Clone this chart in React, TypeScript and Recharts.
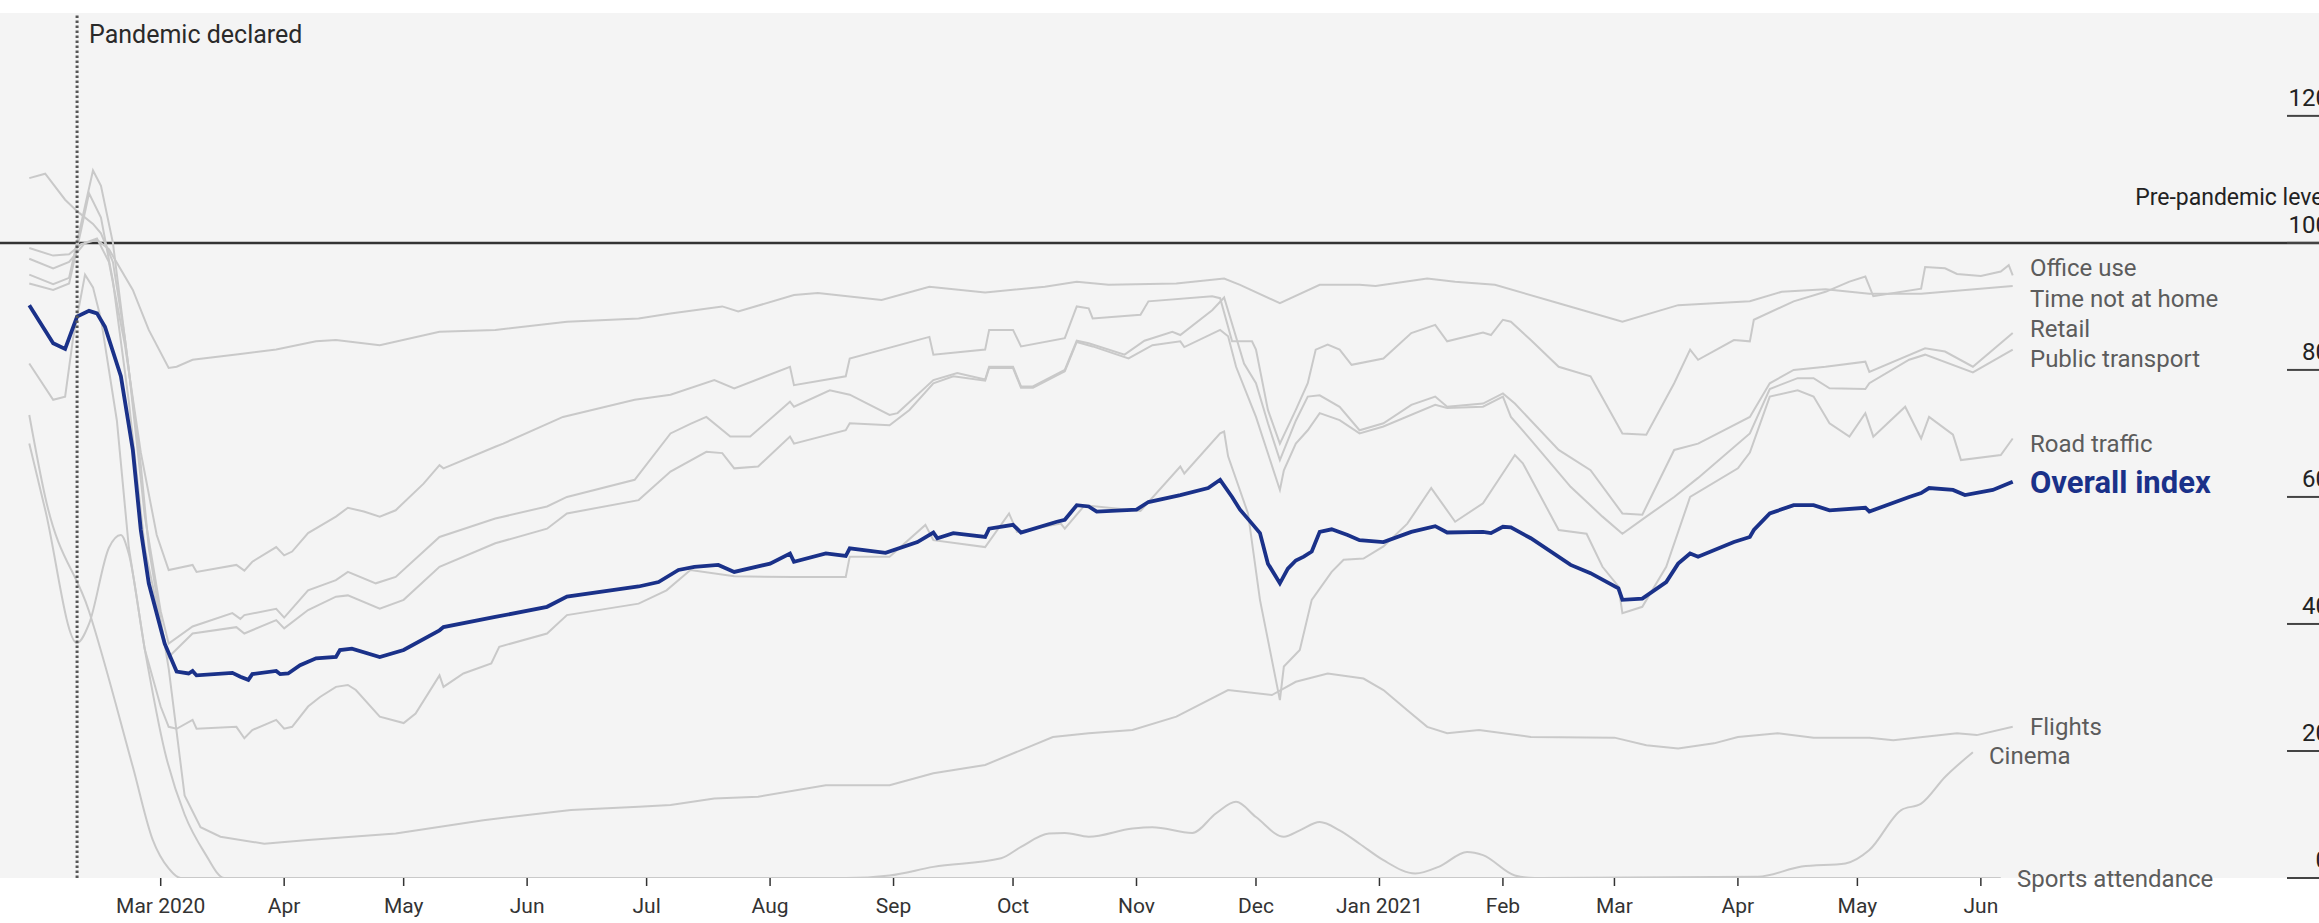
import React from 'react';
import { LineChart, Line, XAxis, YAxis, CartesianGrid, ReferenceLine } from 'recharts';

const CHART_W = 2319;
const CHART_H = 923;

// x values are days since 1 March 2020
const DAY_MIN = -40.35;
const DAY_MAX = 541.9;
const Y_MAX = 136.2;
const PANDEMIC_DECLARED = -21;
const TICK_LEN_DAYS = 8.03;

const monthTicks = [0, 31, 61, 92, 122, 153, 184, 214, 245, 275, 306, 337, 365, 396, 426, 457];
const monthLabels = ['Mar 2020', 'Apr', 'May', 'Jun', 'Jul', 'Aug', 'Sep', 'Oct', 'Nov', 'Dec', 'Jan 2021', 'Feb', 'Mar', 'Apr', 'May', 'Jun'];
const valueTicks = [0, 20, 40, 60, 80, 100, 120];

// [day, index] pairs, 100 = pre-pandemic level
const officeUse = [
  [-33, 97.5], [-27, 96], [-23, 97], [-19, 100], [-16, 100.7], [-13, 97], [-9, 84], [-5, 67], [-1, 54], [2, 48.5],
  [8, 49.3], [9, 48.2], [19, 49.3], [21, 48.4], [23, 49.8], [29, 52.1], [31, 50.8], [33, 51.4], [37, 54.3], [44, 56.9],
  [47, 58.3], [51, 57.7], [55, 56.9], [59, 57.9], [66, 62.1], [70, 65], [71, 64.5], [84, 67.9], [86, 68.4], [101, 72.6],
  [119, 75.3], [128, 76.1], [139, 78.4], [144, 77.1], [158, 80.5], [159, 77.6], [172, 79], [173, 81.8], [193, 85.2], [194, 82.4],
  [207, 83.2], [208, 86.3], [214, 86.3], [216, 83.7], [227, 85], [230, 90], [233, 89.7], [234, 88.1], [246, 88.7], [248, 90.8],
  [264, 91.6], [266, 91.3], [269, 84.5], [274, 84.5], [275, 83.2], [278, 73.7], [281, 68.4], [285, 73.7], [288, 77.9], [290, 83.2],
  [293, 84], [296, 83.2], [299, 80.8], [307, 81.8], [314, 85.8], [320, 87.1], [323, 84.5], [332, 85.9], [334, 85.5], [337, 87.9],
  [339, 87.6], [344, 84.7], [351, 80.5], [359, 79], [367, 70], [373, 69.8], [380, 77.9], [384, 83.2], [386, 81.6], [395, 84.7],
  [399, 84.5], [400, 87.9], [410, 90.8], [418, 92.3], [424, 93.9], [428, 94.7], [430, 91.6], [442, 92.8], [443, 96.2], [448, 96],
  [451, 95.1], [457, 94.8], [462, 95.5], [464, 96.5], [465, 94.9],
];

const timeNotAtHome = [
  [-33, 99.2], [-27, 98], [-23, 98.2], [-20, 99.8], [-16, 100.5], [-13, 99], [-7, 92.6], [-3, 86.3], [2, 80.3], [4, 80.5],
  [8, 81.6], [20, 82.5], [29, 83.2], [39, 84.5], [44, 84.7], [55, 83.9], [70, 86], [84, 86.3], [102, 87.6], [120, 88.1],
  [128, 88.9], [141, 90], [145, 89.2], [159, 91.8], [165, 92.1], [181, 91], [193, 93.1], [207, 92.2], [222, 93.1], [230, 93.9],
  [238, 93.4], [255, 93.6], [267, 94.4], [271, 93.4], [281, 90.5], [291, 93.4], [301, 93.4], [305, 93.2], [318, 94.4], [325, 93.9],
  [335, 93.4], [351, 90.5], [367, 87.6], [381, 90.2], [399, 90.8], [407, 92.3], [418, 92.7], [429, 92], [442, 92], [465, 93.2],
];

const retail = [
  [-33, 95], [-27, 93.5], [-23, 94.5], [-20, 103], [-17, 111.4], [-15, 109], [-12, 100], [-8, 80], [-4, 57], [0, 42],
  [2, 36.9], [8, 39.6], [18, 41.7], [20, 40.8], [21, 41.4], [29, 42.4], [31, 41], [37, 45.3], [44, 46.9], [47, 48.2],
  [54, 46.4], [59, 47.4], [70, 53.7], [84, 56.6], [97, 58.5], [102, 60], [119, 62.7], [128, 70], [133, 71.5], [137, 72.6],
  [143, 69.5], [148, 69.5], [158, 75], [159, 74.2], [168, 76.8], [173, 76.1], [183, 72.9], [185, 73.2], [194, 78.4], [200, 79.5],
  [207, 78.5], [208, 80.5], [214, 80.5], [216, 77.4], [219, 77.4], [227, 80], [230, 84.6], [233, 84.2], [242, 82.4], [247, 84.6],
  [254, 86], [256, 85.5], [264, 89.4], [267, 91.4], [272, 81], [275, 77.9], [278, 71.6], [281, 65.8], [285, 72], [288, 75.8],
  [291, 76], [296, 74.2], [301, 70.5], [307, 71.6], [314, 74.5], [320, 75.8], [323, 74.2], [332, 74.7], [337, 76.3], [340, 74.7],
  [351, 67.4], [359, 64.2], [367, 57.4], [372, 57.2], [380, 67.4], [386, 68.4], [399, 72.6], [404, 77.9], [410, 80], [418, 80.5],
  [428, 81.3], [429, 79.7], [443, 83.4], [448, 82.9], [455, 80.5], [465, 85.8],
];

const publicTransport = [
  [-33, 93.6], [-27, 92.6], [-23, 93.6], [-20, 102], [-18, 107.8], [-15, 104], [-12, 94], [-8, 75], [-4, 52], [0, 40],
  [2, 34.8], [8, 38.5], [19, 39.5], [21, 38.5], [29, 40.6], [31, 39.3], [37, 42.2], [44, 44.3], [47, 44.5], [55, 42.4],
  [61, 43.8], [70, 49], [84, 52.7], [97, 55], [102, 57.4], [120, 59.5], [128, 64], [137, 67.1], [141, 66.9], [144, 64.5],
  [150, 64.8], [158, 69.5], [159, 68.4], [172, 70.5], [173, 71.6], [183, 71.3], [188, 73.7], [194, 77.9], [199, 79], [207, 78.3],
  [208, 80.3], [214, 80.3], [216, 77.2], [219, 77.2], [227, 79.8], [230, 84.4], [234, 83.7], [243, 81.8], [249, 83.9], [256, 84.5],
  [257, 83.6], [266, 86.3], [268, 85.3], [270, 80.5], [275, 72.6], [281, 61.1], [282, 64.2], [285, 68.4], [288, 70.5], [291, 73.2],
  [296, 72.1], [301, 70], [307, 71.1], [320, 74.5], [323, 74], [332, 74.2], [337, 75.8], [339, 72.6], [344, 69], [354, 61.6],
  [362, 56.9], [367, 54.2], [373, 56.9], [380, 60], [386, 63], [399, 70], [404, 77], [411, 78.7], [415, 78.7], [419, 77.1],
  [428, 77], [429, 77.9], [439, 81.6], [443, 82.4], [455, 79.6], [465, 83.2],
];

const roadTraffic = [
  [-33, 81], [-27, 75.3], [-24, 75.8], [-22, 85], [-19, 95], [-17, 93], [-15, 88], [-11, 72], [-8, 52], [-4, 36],
  [0, 27], [2, 23.8], [4, 23.5], [8, 24.9], [9, 23.5], [19, 23.8], [21, 22], [23, 23.3], [29, 24.9], [31, 23.5],
  [33, 23.8], [37, 27], [40, 28.5], [44, 30.1], [47, 30.4], [49, 29.6], [55, 25.4], [61, 24.4], [64, 25.9], [70, 31.9],
  [71, 30.1], [76, 32.2], [83, 33.8], [85, 36.4], [97, 38.5], [102, 41.4], [120, 43.2], [127, 45.3], [133, 48.5], [144, 47.5],
  [159, 47.4], [172, 47.4], [173, 50.6], [183, 50.6], [192, 55.6], [194, 53.2], [207, 52.1], [213, 57.4], [215, 54.5], [226, 55.8],
  [227, 55], [232, 58.7], [246, 57.8], [256, 64.8], [257, 63.7], [266, 70], [267, 70.3], [268, 66.4], [273, 57.4], [276, 43.8],
  [281, 28], [282, 33.3], [286, 35.9], [289, 43.8], [294, 48.2], [297, 50.1], [302, 50.3], [307, 52.2], [313, 55.8], [319, 61.4],
  [325, 56.1], [332, 59], [340, 66.6], [342, 65.3], [351, 54.8], [358, 54.2], [362, 49], [366, 45.9], [367, 41.7], [372, 42.7],
  [378, 49], [384, 60], [396, 64.5], [399, 67], [404, 75.8], [411, 76.8], [415, 75.8], [419, 71.6], [424, 69.5], [428, 73.2],
  [430, 69.5], [438, 74.2], [442, 69.2], [444, 72.6], [450, 69.8], [452, 65.8], [462, 66.6], [465, 69.2],
];

const flights = [
  [-33, 110.2], [-29, 110.9], [-24, 106.8], [-21, 105], [-17, 103], [-15, 101.5], [-12, 97], [-9, 85], [-5, 65], [-3, 52],
  [2, 33], [6, 13], [10, 8], [15, 6.5], [26, 5.4], [37, 6], [59, 7], [81, 9.1], [103, 10.7], [120, 11.2],
  [128, 11.5], [139, 12.5], [150, 12.8], [167, 14.6], [183, 14.6], [194, 16.5], [207, 17.8], [224, 22.2], [233, 22.8], [244, 23.3],
  [255, 25.4], [268, 29.6], [279, 28.8], [285, 30.9], [293, 32.2], [302, 31.4], [307, 29.6], [313, 26.4], [318, 23.8], [323, 22.8],
  [331, 23.3], [344, 22.2], [365, 22.1], [373, 20.9], [381, 20.4], [390, 21.2], [396, 22.2], [406, 22.8], [415, 22.1], [429, 22.1],
  [435, 21.7], [451, 22.8], [456, 22.5], [465, 23.8],
];

const cinema = [
  [-33, 72.9], [-29, 60], [-18, 42], [-7, 17.5], [-2, 6], [2, 1.5], [5, 0], [172, 0], [183, 0.4], [194, 1.75],
  [211, 3.1], [216, 4.9], [223, 7], [227, 7.1], [233, 6.5], [244, 7.8], [249, 8], [259, 7.1], [265, 10.2], [270, 12],
  [275, 9.6], [282, 6.5], [286, 7.5], [291, 8.8], [296, 7.5], [301, 5.4], [307, 2.8], [315, 0.7], [321, 1.8], [328, 4.1],
  [332, 3.6], [340, 0.4], [345, 0], [401, 0.2], [412, 1.8], [423, 2.3], [429, 4.4], [437, 10.7], [442, 11.7], [448, 15.9],
  [455, 19.8],
];

const sportsAttendance = [
  [-33, 68.4], [-29, 58], [-21, 37], [-18, 40], [-13, 52], [-10, 54], [-8, 51], [-4, 36], [1, 20], [6, 10],
  [11, 4], [16, 0], [462, 0],
];

const overallIndex = [
  [-33, 90.2], [-27, 84.2], [-24, 83.3], [-21, 88.4], [-18, 89.3], [-16, 88.9], [-14, 86.8], [-10, 79], [-7, 67.4], [-5, 54.8],
  [-3, 46.4], [1, 36.9], [4, 32.5], [7, 32.2], [8, 32.6], [9, 31.9], [18, 32.3], [20, 31.7], [22, 31.2], [23, 32.1],
  [29, 32.6], [30, 32.1], [32, 32.2], [35, 33.5], [39, 34.6], [44, 34.8], [45, 35.9], [48, 36.1], [55, 34.8], [61, 35.9],
  [70, 39], [71, 39.5], [84, 41.1], [97, 42.7], [102, 44.3], [120, 45.9], [125, 46.6], [130, 48.5], [134, 49], [140, 49.3],
  [144, 48.2], [153, 49.5], [158, 51.1], [159, 49.8], [167, 51.1], [172, 50.7], [173, 51.9], [182, 51.2], [190, 52.9], [194, 54.4],
  [195, 53.5], [199, 54.3], [207, 53.7], [208, 55], [214, 55.6], [216, 54.4], [225, 56.1], [227, 56.4], [230, 58.7], [233, 58.5],
  [235, 57.7], [245, 58], [248, 59.2], [256, 60.3], [263, 61.4], [266, 62.7], [269, 60], [271, 58], [274, 55.8], [276, 54.3],
  [278, 49.5], [281, 46.4], [283, 48.7], [285, 50], [287, 50.6], [289, 51.4], [291, 54.5], [294, 54.9], [298, 54], [301, 53.2],
  [307, 52.9], [314, 54.5], [320, 55.4], [323, 54.4], [332, 54.5], [334, 54.3], [337, 55.3], [339, 55.2], [344, 53.5], [354, 49.3],
  [359, 48], [366, 45.6], [367, 43.8], [372, 44], [378, 46.6], [381, 49.5], [384, 51.1], [386, 50.6], [395, 52.9], [399, 53.7],
  [400, 54.8], [404, 57.4], [410, 58.7], [415, 58.7], [419, 57.9], [428, 58.3], [429, 57.7], [439, 60], [442, 60.6], [444, 61.4],
  [450, 61.1], [453, 60.3], [460, 61.1], [465, 62.4],
];

const toPoints = (rows: number[][]) => rows.map(([day, value]) => ({ day, value }));

const greySeries = [
  { name: 'Office use', rows: officeUse, curve: 'linear' },
  { name: 'Time not at home', rows: timeNotAtHome, curve: 'linear' },
  { name: 'Retail', rows: retail, curve: 'linear' },
  { name: 'Public transport', rows: publicTransport, curve: 'linear' },
  { name: 'Road traffic', rows: roadTraffic, curve: 'linear' },
  { name: 'Flights', rows: flights, curve: 'linear' },
  { name: 'Cinema', rows: cinema, curve: 'monotone' },
  { name: 'Sports attendance', rows: sportsAttendance, curve: 'monotone' },
];

const FONT = 'Roboto, "Noto Sans", sans-serif';
const GREY_LINE = '#c9c9c9';
const BLUE = '#1a3189';
const LABEL_GREY = '#5c5c5c';

// value label sitting above each right-hand tick, cut by the page edge as in the original
const ValueLabel = ({ viewBox, value }: any) => {
  const y = viewBox?.y ?? 0;
  return (
    <g>
      <text x={CHART_W + 10} y={y - 10} textAnchor="end" fontSize={24} fill="#222" fontFamily={FONT}>
        {value}
      </text>
      {value === 100 && (
        <text x={CHART_W + 10} y={y - 38} textAnchor="end" fontSize={23} fill="#222" fontFamily={FONT}>
          Pre-pandemic level
        </text>
      )}
    </g>
  );
};

export default function App() {
  return (
    <div style={{ position: 'relative', width: CHART_W, height: CHART_H, background: '#fff' }}>
      <style>{'body { margin: 0; }'}</style>
      <LineChart width={CHART_W} height={CHART_H} margin={{ top: 13, right: 0, bottom: 0, left: 0 }}>
        <CartesianGrid horizontal={false} vertical={false} fill="#f4f4f4" stroke="none" />
        <XAxis
          type="number"
          dataKey="day"
          domain={[DAY_MIN, DAY_MAX]}
          allowDataOverflow
          ticks={monthTicks}
          interval={0}
          tickFormatter={(d: number) => monthLabels[monthTicks.indexOf(d)] ?? ''}
          axisLine={false}
          tickLine={{ stroke: '#333', strokeWidth: 1.5 }}
          tickSize={8}
          tickMargin={12}
          height={45}
          tick={{ fill: '#333', fontSize: 21, fontFamily: FONT }}
        />
        <YAxis hide domain={[0, Y_MAX]} allowDataOverflow />
        <ReferenceLine y={100} stroke="#333" strokeWidth={2.5} />
        {valueTicks.map((v) => (
          <ReferenceLine
            key={`tick-${v}`}
            segment={[{ x: DAY_MAX - TICK_LEN_DAYS, y: v }, { x: DAY_MAX, y: v }]}
            stroke="#444"
            strokeWidth={2}
            label={(props: any) => <ValueLabel {...props} value={v} />}
          />
        ))}
        {greySeries.map((s) => (
          <Line
            key={s.name}
            name={s.name}
            data={toPoints(s.rows)}
            dataKey="value"
            type={s.curve as any}
            stroke={GREY_LINE}
            strokeWidth={2}
            dot={false}
            isAnimationActive={false}
          />
        ))}
        <Line
          name="Overall index"
          data={toPoints(overallIndex)}
          dataKey="value"
          type="linear"
          stroke={BLUE}
          strokeWidth={3.8}
          dot={false}
          isAnimationActive={false}
        />
        <ReferenceLine x={PANDEMIC_DECLARED} stroke="#555" strokeWidth={3} strokeDasharray="2.5 2.5" />
      </LineChart>
      <svg
        width={CHART_W}
        height={CHART_H}
        style={{ position: 'absolute', left: 0, top: 0, pointerEvents: 'none' }}
        fontFamily={FONT}
      >
        <text x={89} y={43} fontSize={25} fill="#2a2a2a">Pandemic declared</text>
        <text x={2030} y={276} fontSize={24} fill={LABEL_GREY}>Office use</text>
        <text x={2030} y={307} fontSize={24} fill={LABEL_GREY}>Time not at home</text>
        <text x={2030} y={337} fontSize={24} fill={LABEL_GREY}>Retail</text>
        <text x={2030} y={367} fontSize={24} fill={LABEL_GREY}>Public transport</text>
        <text x={2030} y={452} fontSize={24} fill={LABEL_GREY}>Road traffic</text>
        <text x={2030} y={493} fontSize={31} fontWeight={700} fill={BLUE}>Overall index</text>
        <text x={2030} y={735} fontSize={24} fill={LABEL_GREY}>Flights</text>
        <text x={1989} y={764} fontSize={24} fill={LABEL_GREY}>Cinema</text>
        <text x={2017} y={887} fontSize={24} fill={LABEL_GREY}>Sports attendance</text>
      </svg>
    </div>
  );
}
